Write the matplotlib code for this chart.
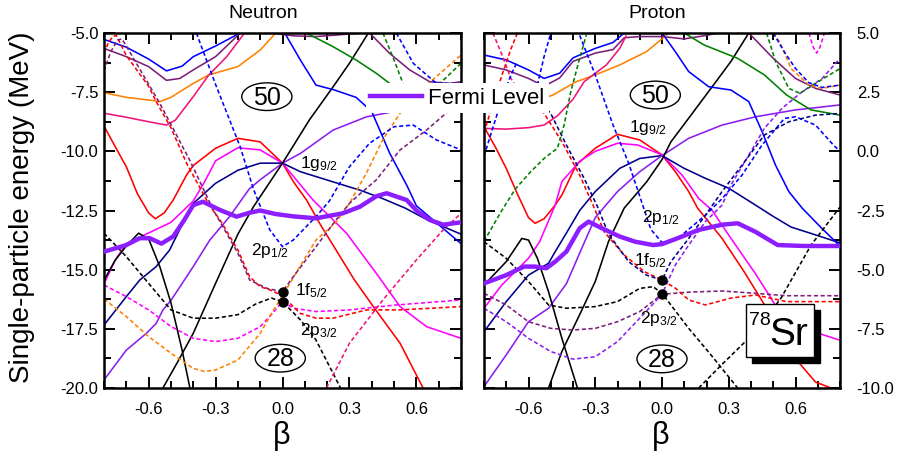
import matplotlib
matplotlib.use("Agg")
import matplotlib.pyplot as plt
from matplotlib.lines import Line2D
from matplotlib.patches import Ellipse, Rectangle
from matplotlib.ticker import MultipleLocator, FormatStrFormatter

plt.rcParams['font.family'] = ['Liberation Sans', 'DejaVu Sans']
plt.rcParams['mathtext.fontset'] = 'custom'
plt.rcParams['mathtext.rm'] = 'Liberation Sans'
plt.rcParams['mathtext.it'] = 'Liberation Sans:italic'

# ---------------- colours ----------------
RED = '#FF0000'; MAG = '#FF00FF'; NAVY = '#00008B'; BLUE = '#0000FF'
VIOL = '#8A1EF0'; DPUR = '#7B1F7B'; ORNG = '#FF8000'; PINK = '#F0147A'
GRN = '#008000'; BLK = '#000000'; FERMI = '#8C1EFF'

# ================= NEUTRON (left) data: beta, energy (MeV) =================
n_blue_top_b = [-0.8, -0.7, -0.6, -0.52, -0.45, -0.4, -0.3, -0.2]
n_blue_top_e = [-5.27, -5.6, -6.1, -6.6, -6.4, -6.0, -5.55, -5.05]
n_dpur_top_b = [-0.8, -0.7, -0.6, -0.52, -0.46, -0.4, -0.3, -0.2, -0.19]
n_dpur_top_e = [-5.65, -6.0, -6.42, -7.0, -6.92, -6.56, -6.0, -5.1, -5.0]
n_orng_sol_b = [-0.8, -0.7, -0.6, -0.55, -0.5, -0.4, -0.33, -0.2, -0.1, -0.03]
n_orng_sol_e = [-7.52, -7.72, -7.83, -7.9, -7.72, -7.13, -6.77, -6.42, -5.72, -5.0]
n_pink_sol_b = [-0.8, -0.7, -0.6, -0.52, -0.48, -0.4, -0.33, -0.25, -0.17]
n_pink_sol_e = [-8.39, -8.56, -8.75, -8.89, -8.68, -7.69, -6.77, -6.0, -5.0]
n_red_sol_b = [-0.8, -0.75, -0.7, -0.65, -0.6, -0.57, -0.53, -0.49, -0.43, -0.4, -0.3, -0.2, -0.1, 0.0,
               0.05, 0.108, 0.17, 0.24, 0.32, 0.407, 0.527, 0.63]
n_red_sol_e = [-8.93, -9.8, -10.65, -11.8, -12.6, -12.85, -12.6, -12.06, -11.0, -10.6, -9.87, -9.45, -9.6, -10.5,
               -11.3, -12.06, -13.1, -14.17, -15.4, -16.56, -18.11, -20.0]
n_mag_sol_b = [-0.8, -0.75, -0.7, -0.6, -0.5, -0.4, -0.35, -0.3, -0.2, -0.1, 0.0, 0.137, 0.287, 0.42, 0.527, 0.646, 0.8]
n_mag_sol_e = [-15.6, -14.6, -13.9, -13.45, -13.0, -12.1, -11.3, -10.4, -9.85, -9.94, -10.5, -12.06, -13.46, -15.15,
               -16.56, -17.41, -17.9]
n_navy_sol_b = [-0.8, -0.7, -0.64, -0.566, -0.506, -0.45, -0.4, -0.3, -0.2, -0.1, 0.0, 0.08, 0.23, 0.35, 0.45,
                0.55, 0.65, 0.8]
n_navy_sol_e = [-17.34, -16.14, -15.44, -14.87, -14.17, -13.1, -12.2, -11.35, -10.8, -10.5, -10.5, -10.86, -11.3,
                -11.65, -12.0, -12.4, -12.9, -13.5]
n_viol_sol_b = [-0.8, -0.7, -0.61, -0.566, -0.536, -0.5, -0.4, -0.326, -0.237, -0.15, -0.1, 0.0, 0.08, 0.227,
                0.377, 0.54, 0.8]
n_viol_sol_e = [-19.66, -18.4, -17.69, -17.27, -16.7, -16.3, -14.87, -13.75, -12.76, -11.6, -11.2, -10.5, -10.09,
                -9.1, -8.54, -8.25, -7.95]
n_blk_a_b = [-0.536, -0.47, -0.4, -0.3, -0.2, -0.13, 0.0, 0.12, 0.227, 0.3, 0.385]
n_blk_a_e = [-20.0, -18.9, -17.69, -15.58, -13.5, -12.34, -10.5, -8.68, -7.27, -6.28, -5.0]
n_blk_b_b = [-0.8, -0.75, -0.7, -0.645, -0.6, -0.55, -0.5, -0.45, -0.415]
n_blk_b_e = [-15.45, -14.6, -14.0, -13.46, -13.7, -14.87, -16.4, -18.4, -20.0]
n_blue_sol_b = [0.01, 0.08, 0.15, 0.23, 0.33, 0.4, 0.48, 0.56, 0.6, 0.7, 0.8]
n_blue_sol_e = [-5.0, -6.14, -7.2, -7.4, -7.72, -8.32, -10.07, -11.49, -12.3, -13.1, -13.9]
n_dpur_sol_r_b = [0.39, 0.48, 0.57, 0.66, 0.75, 0.8]
n_dpur_sol_r_e = [-5.0, -5.86, -6.56, -7.06, -7.13, -7.06]
n_dpur_hug_b = [-0.05, 0.05, 0.15, 0.25, 0.35]
n_dpur_hug_e = [-5.0, -5.12, -5.15, -5.08, -5.0]
n_grn_sol_b = [0.107, 0.227, 0.33, 0.42, 0.48, 0.55]
n_grn_sol_e = [-5.0, -5.58, -6.14, -6.7, -7.13, -7.5]

n_blk_dash_b = [-0.8, -0.7, -0.6, -0.5, -0.4, -0.3, -0.2, -0.12, -0.05, 0.0, 0.08, 0.15, 0.26]
n_blk_dash_e = [-13.46, -14.45, -15.58, -16.7, -17.05, -17.05, -16.9, -16.45, -16.2, -16.35, -17.12, -17.97, -20.0]
n_mag_dash_b = [-0.8, -0.7, -0.6, -0.5, -0.4, -0.3, -0.2, -0.1, -0.05, 0.0, 0.05, 0.15, 0.3, 0.5, 0.8]
n_mag_dash_e = [-15.65, -16.14, -16.7, -17.4, -17.9, -18.04, -17.9, -17.41, -16.9, -16.35, -16.63, -16.77, -16.7,
                -16.5, -16.28]
n_orng_dash_b = [-0.8, -0.7, -0.6, -0.5, -0.4, -0.35, -0.3, -0.2, -0.1, -0.04, 0.0, 0.078, 0.15, 0.24, 0.3,
                 0.377, 0.45, 0.527, 0.646, 0.8]
n_orng_dash_e = [-16.24, -16.98, -17.83, -18.53, -19.17, -19.3, -19.24, -18.82, -17.69, -16.7, -16.1, -14.87,
                 -13.75, -13.0, -12.2, -10.9, -9.5, -8.39, -7.2, -5.93]
n_red_dash_b = [-0.8, -0.78, -0.76, -0.745, -0.7, -0.6, -0.566, -0.5, -0.43, -0.326, -0.28, -0.2, -0.147, -0.1,
                -0.057, 0.0, 0.078, 0.15, 0.227, 0.377, 0.527, 0.8]
n_red_dash_e = [-5.86, -5.4, -5.15, -5.1, -5.95, -7.25, -7.9, -9.0, -10.5, -12.3, -12.9, -14.17, -15.3, -15.72,
                -15.85, -16.1, -16.84, -17.05, -17.05, -16.7, -16.7, -16.56]
n_pur_dash_b = [-0.8, -0.77, -0.74, -0.72, -0.7, -0.655, -0.55, -0.416, -0.31, -0.2, -0.147, -0.07, 0.0, 0.048,
                0.15, 0.24, 0.3, 0.347, 0.42, 0.527, 0.646, 0.75, 0.8]
n_pur_dash_e = [-6.6, -5.8, -5.3, -5.25, -5.55, -6.28, -7.97, -10.37, -12.48, -14.3, -15.44, -15.79, -15.93,
                -15.3, -14.03, -12.9, -12.2, -11.8, -11.21, -9.94, -9.1, -8.25, -7.97]
n_blue_dash_b = [-0.386, -0.296, -0.19, -0.13, -0.057, 0.0, 0.048, 0.15, 0.21, 0.3, 0.39, 0.5, 0.586, 0.69, 0.8]
n_blue_dash_e = [-5.0, -7.27, -9.8, -11.6, -13.32, -14.03, -13.75, -12.76, -12.1, -10.65, -9.66, -8.96, -8.89,
                 -9.52, -9.94]
n_grn_dash1_b = [0.45, 0.5, 0.54, 0.58]
n_grn_dash1_e = [-5.0, -6.14, -7.13, -7.6]
n_grn_dash2_b = [0.62, 0.706, 0.8]
n_grn_dash2_e = [-7.6, -7.13, -6.28]
n_blue_dash2_b = [0.51, 0.586, 0.69, 0.8]
n_blue_dash2_e = [-5.0, -6.28, -7.13, -7.13]
n_pink_dash_b = [0.197, 0.3, 0.45, 0.6, 0.72, 0.8]
n_pink_dash_e = [-20.0, -18.11, -16.28, -14.59, -13.32, -12.62]

n_fermi_b = [-0.8, -0.7, -0.64, -0.595, -0.543, -0.49, -0.44, -0.4, -0.356, -0.28, -0.206, -0.15, -0.1, -0.03,
             0.05, 0.15, 0.27, 0.347, 0.42, 0.467, 0.557, 0.6, 0.66, 0.72, 0.8]
n_fermi_e = [-14.24, -13.96, -13.67, -13.67, -13.9, -13.6, -12.9, -12.27, -12.13, -12.48, -12.76, -12.6, -12.5,
             -12.65, -12.75, -12.83, -12.62, -12.34, -11.9, -11.77, -12.06, -12.5, -12.9, -13.1, -13.0]
n_dots_b = [0.0, 0.0]
n_dots_e = [-15.93, -16.35]

# ================= PROTON (right) data =================
p_blue_top_b = [-0.8, -0.7, -0.6, -0.53, -0.46, -0.4, -0.3, -0.22, -0.17]
p_blue_top_e = [4.07, 3.86, 3.44, 3.08, 3.3, 3.95, 4.35, 4.6, 5.0]
p_dpur_top_b = [-0.8, -0.7, -0.6, -0.53, -0.46, -0.4, -0.3, -0.22, -0.17, -0.1, 0.0, 0.1, 0.2, 0.25]
p_dpur_top_e = [3.65, 3.44, 3.08, 2.75, 3.1, 3.8, 4.15, 4.3, 4.8, 4.85, 4.85, 4.75, 4.9, 5.0]
p_orng_sol_b = [-0.6, -0.49, -0.386, -0.3, -0.19, -0.07, 0.0, 0.03]
p_orng_sol_e = [2.0, 2.38, 2.94, 3.23, 3.65, 4.21, 4.75, 5.0]
p_pink_sol_b = [-0.8, -0.7, -0.6, -0.53, -0.47, -0.4, -0.35, -0.3, -0.25, -0.19, -0.16]
p_pink_sol_e = [0.97, 0.94, 1.0, 1.11, 1.5, 2.2, 2.94, 3.3, 3.65, 4.35, 4.9]
p_red_sol_b = [-0.8, -0.75, -0.7, -0.65, -0.6, -0.57, -0.53, -0.48, -0.45, -0.386, -0.3, -0.2, -0.1, 0.0, 0.06,
               0.12, 0.16, 0.27, 0.37, 0.49, 0.6, 0.69, 0.76]
p_red_sol_e = [1.04, 0.2, -0.72, -1.8, -2.8, -3.04, -2.85, -2.27, -1.85, -0.58, 0.13, 0.72, 0.48, -0.15, -0.86,
               -1.7, -2.4, -3.68, -5.1, -6.93, -8.76, -9.75, -10.0]
p_mag_sol_b = [-0.8, -0.72, -0.6, -0.55, -0.48, -0.45, -0.37, -0.3, -0.2, -0.11, 0.0, 0.09, 0.165, 0.225, 0.31,
               0.415, 0.49, 0.535, 0.64, 0.8]
p_mag_sol_e = [-6.63, -5.65, -4.52, -3.82, -2.27, -1.28, -0.42, 0.0, 0.34, 0.27, -0.15, -1.0, -1.99, -2.49, -3.68,
               -5.1, -6.2, -6.93, -7.5, -7.98]
p_navy_sol_b = [-0.8, -0.7, -0.6, -0.51, -0.48, -0.42, -0.37, -0.3, -0.19, -0.1, 0.0, 0.1, 0.195, 0.3, 0.42, 0.5,
                0.58, 0.68, 0.8]
p_navy_sol_e = [-7.62, -6.35, -5.23, -4.73, -4.24, -3.3, -2.5, -1.7, -0.72, -0.3, -0.18, -0.72, -1.14, -1.56,
                -2.27, -2.75, -3.2, -3.5, -3.87]
p_viol_sol_b = [-0.8, -0.7, -0.6, -0.51, -0.43, -0.37, -0.3, -0.2, -0.1, 0.0, 0.12, 0.27, 0.42, 0.6, 0.8]
p_viol_sol_e = [-9.94, -8.6, -7.2, -6.63, -5.6, -4.3, -2.8, -1.7, -0.86, -0.18, 0.55, 1.11, 1.46, 1.75, 1.96]
p_blk_a_b = [-0.51, -0.45, -0.37, -0.3, -0.24, -0.17, -0.07, 0.0, 0.04, 0.12, 0.22, 0.31, 0.39]
p_blk_a_e = [-10.0, -8.46, -6.9, -5.5, -3.8, -2.4, -1.3, -0.35, 0.4, 1.4, 2.66, 3.8, 5.0]
p_blk_b_b = [-0.8, -0.7, -0.63, -0.6, -0.56, -0.51, -0.45, -0.38]
p_blk_b_e = [-5.65, -4.66, -3.68, -3.75, -4.52, -5.93, -7.9, -10.0]
p_dpur_sol_r_b = [0.39, 0.5, 0.6, 0.69, 0.8]
p_dpur_sol_r_e = [5.0, 3.93, 3.08, 2.66, 2.38]
p_grn_sol_b = [0.1, 0.19, 0.34, 0.46, 0.56, 0.67, 0.8]
p_grn_sol_e = [5.0, 4.49, 3.93, 3.23, 2.38, 1.75, 1.53]
p_blue_sol_b = [0.0, 0.06, 0.12, 0.21, 0.31, 0.39, 0.45, 0.51, 0.57, 0.63, 0.72, 0.8]
p_blue_sol_e = [5.0, 4.21, 3.37, 2.73, 2.59, 2.1, 0.83, -0.58, -1.7, -2.4, -3.27, -4.0]

p_blk_dash1_b = [-0.8, -0.7, -0.6, -0.51, -0.43, -0.3, -0.2, -0.1, -0.04, 0.0, 0.12, 0.22, 0.34]
p_blk_dash1_e = [-3.82, -4.52, -5.5, -6.49, -6.63, -6.56, -6.35, -5.79, -5.72, -6.0, -7.48, -8.6, -10.0]
p_blk_dash2_b = [0.165, 0.27, 0.42, 0.535, 0.67, 0.78, 0.8]
p_blk_dash2_e = [-10.0, -9.0, -7.62, -6.2, -3.96, -2.6, -2.35]
p_dpur_dash_b = [-0.8, -0.7, -0.6, -0.5, -0.4, -0.3, -0.2, -0.1, 0.0, 0.12, 0.27, 0.42, 0.56, 0.8]
p_dpur_dash_e = [-6.0, -6.49, -7.2, -7.48, -7.55, -7.48, -7.2, -6.77, -6.04, -5.95, -5.9, -6.0, -6.1, -6.1]
p_viol_dash_b = [-0.8, -0.7, -0.6, -0.5, -0.4, -0.3, -0.2, -0.1, 0.0, 0.06, 0.12, 0.195, 0.27, 0.31, 0.4, 0.46,
                 0.54, 0.63, 0.72, 0.8]
p_viol_dash_e = [-6.63, -7.2, -7.9, -8.46, -8.78, -8.68, -8.04, -7.05, -6.04, -4.8, -3.96, -2.97, -2.27, -1.42,
                 0.0, 0.97, 1.82, 2.52, 3.08, 3.93]
p_blue_dash_b = [-0.37, -0.3, -0.22, -0.15, -0.1, -0.05, 0.0, 0.05, 0.09, 0.195, 0.27, 0.36, 0.45, 0.55, 0.6,
                 0.69, 0.77, 0.8]
p_blue_dash_e = [4.9, 3.23, 1.11, -0.5, -1.9, -3.3, -3.85, -3.8, -3.53, -2.7, -2.0, -1.0, 0.27, 1.39, 1.46, 1.11,
                 0.27, 0.0]
p_red_dash_b = [-0.62, -0.53, -0.45, -0.37, -0.31, -0.26, -0.17, -0.08, 0.0, 0.06, 0.12, 0.195, 0.31, 0.42, 0.56,
                0.8]
p_red_dash_e = [2.6, 1.6, 0.41, -1.0, -2.27, -3.4, -4.38, -5.08, -5.44, -5.78, -6.28, -6.49, -6.2, -6.07, -6.35,
                -6.35]
p_navy_dash_b = [-0.6, -0.5, -0.43, -0.35, -0.29, -0.24, -0.15, -0.07, 0.0, 0.04, 0.12, 0.195, 0.27, 0.36, 0.46,
                 0.57, 0.69, 0.8]
p_navy_dash_e = [2.6, 1.6, 0.27, -1.14, -2.34, -3.5, -4.66, -5.23, -5.44, -4.66, -3.68, -2.7, -1.7, -0.58, 0.69,
                 1.25, 1.53, 1.6]
p_grn_dash_b = [-0.8, -0.72, -0.66, -0.59, -0.53, -0.47, -0.44, -0.41, -0.37, -0.34]
p_grn_dash_e = [-3.8, -2.5, -1.6, -0.86, -0.3, 0.13, 1.11, 2.52, 3.93, 4.92]
p_grn_dash_r_b = [0.47, 0.51, 0.57, 0.62, 0.69, 0.8]
p_grn_dash_r_e = [5.0, 3.8, 2.66, 2.45, 2.87, 3.5]
p_orng_dash_r_b = [0.5, 0.53, 0.58, 0.66, 0.72, 0.8]
p_orng_dash_r_e = [5.0, 4.6, 3.5, 2.8, 2.66, 2.8]
p_mag_dash_r_b = [0.66, 0.68, 0.695, 0.71, 0.73]
p_mag_dash_r_e = [5.0, 4.4, 4.15, 4.4, 5.0]
p_blue_dash_r_b = [0.5, 0.55, 0.6, 0.66, 0.72, 0.8]
p_blue_dash_r_e = [5.0, 4.2, 3.5, 2.9, 2.7, 2.8]
p_pink_dash_tl_b = [-0.76, -0.72, -0.68, -0.64]
p_pink_dash_tl_e = [5.0, 4.1, 3.1, 2.5]
p_red_dash_tl_b = [-0.8, -0.76, -0.72, -0.68, -0.65]
p_red_dash_tl_e = [0.8, 2.0, 3.2, 4.3, 5.0]
p_blue_dash_tl_b = [-0.8, -0.76, -0.72, -0.68, -0.65]
p_blue_dash_tl_e = [-0.2, 1.0, 2.2, 3.2, 3.8]
p_blue_dash_tl2_b = [-0.56, -0.53, -0.5]
p_blue_dash_tl2_e = [2.8, 4.0, 5.0]

p_fermi_b = [-0.8, -0.7, -0.62, -0.57, -0.52, -0.48, -0.43, -0.37, -0.33, -0.27, -0.19, -0.12, -0.04, 0.0, 0.09,
             0.165, 0.27, 0.34, 0.42, 0.52, 0.64, 0.8]
p_fermi_e = [-5.58, -5.23, -4.87, -4.87, -4.94, -4.66, -4.24, -3.25, -2.97, -3.25, -3.6, -3.82, -3.96, -3.92, -3.6,
             -3.32, -3.1, -3.04, -3.4, -3.96, -4.0, -4.0]
p_dots_b = [0.0, 0.0]
p_dots_e = [-5.44, -6.03]

# tick labels / text
x_ticks = [-0.6, -0.3, 0.0, 0.3, 0.6]
x_ticklabels = ['-0.6', '-0.3', '0.0', '0.3', '0.6']

DASH = (0, (2.6, 1.6))

neutron_curves = [
    (n_blue_top_b, n_blue_top_e, BLUE, '-'), (n_dpur_top_b, n_dpur_top_e, DPUR, '-'),
    (n_orng_sol_b, n_orng_sol_e, ORNG, '-'), (n_pink_sol_b, n_pink_sol_e, PINK, '-'),
    (n_red_sol_b, n_red_sol_e, RED, '-'), (n_mag_sol_b, n_mag_sol_e, MAG, '-'),
    (n_navy_sol_b, n_navy_sol_e, NAVY, '-'), (n_viol_sol_b, n_viol_sol_e, VIOL, '-'),
    (n_blk_a_b, n_blk_a_e, BLK, '-'), (n_blk_b_b, n_blk_b_e, BLK, '-'),
    (n_blue_sol_b, n_blue_sol_e, BLUE, '-'), (n_dpur_sol_r_b, n_dpur_sol_r_e, DPUR, '-'),
    (n_dpur_hug_b, n_dpur_hug_e, DPUR, '-'), (n_grn_sol_b, n_grn_sol_e, GRN, '-'),
    (n_blk_dash_b, n_blk_dash_e, BLK, DASH), (n_mag_dash_b, n_mag_dash_e, MAG, DASH),
    (n_orng_dash_b, n_orng_dash_e, ORNG, DASH), (n_red_dash_b, n_red_dash_e, RED, DASH),
    (n_pur_dash_b, n_pur_dash_e, DPUR, DASH), (n_blue_dash_b, n_blue_dash_e, BLUE, DASH),
    (n_grn_dash1_b, n_grn_dash1_e, GRN, DASH), (n_grn_dash2_b, n_grn_dash2_e, GRN, DASH),
    (n_blue_dash2_b, n_blue_dash2_e, BLUE, DASH), (n_pink_dash_b, n_pink_dash_e, PINK, DASH),
]

proton_curves = [
    (p_blue_top_b, p_blue_top_e, BLUE, '-'), (p_dpur_top_b, p_dpur_top_e, DPUR, '-'),
    (p_orng_sol_b, p_orng_sol_e, ORNG, '-'), (p_pink_sol_b, p_pink_sol_e, PINK, '-'),
    (p_red_sol_b, p_red_sol_e, RED, '-'), (p_mag_sol_b, p_mag_sol_e, MAG, '-'),
    (p_navy_sol_b, p_navy_sol_e, NAVY, '-'), (p_viol_sol_b, p_viol_sol_e, VIOL, '-'),
    (p_blk_a_b, p_blk_a_e, BLK, '-'), (p_blk_b_b, p_blk_b_e, BLK, '-'),
    (p_dpur_sol_r_b, p_dpur_sol_r_e, DPUR, '-'), (p_grn_sol_b, p_grn_sol_e, GRN, '-'),
    (p_blue_sol_b, p_blue_sol_e, BLUE, '-'),
    (p_blk_dash1_b, p_blk_dash1_e, BLK, DASH), (p_blk_dash2_b, p_blk_dash2_e, BLK, DASH),
    (p_dpur_dash_b, p_dpur_dash_e, DPUR, DASH), (p_viol_dash_b, p_viol_dash_e, VIOL, DASH),
    (p_blue_dash_b, p_blue_dash_e, BLUE, DASH), (p_red_dash_b, p_red_dash_e, RED, DASH),
    (p_navy_dash_b, p_navy_dash_e, NAVY, DASH), (p_grn_dash_b, p_grn_dash_e, GRN, DASH),
    (p_grn_dash_r_b, p_grn_dash_r_e, GRN, DASH), (p_orng_dash_r_b, p_orng_dash_r_e, ORNG, DASH),
    (p_mag_dash_r_b, p_mag_dash_r_e, MAG, DASH), (p_blue_dash_r_b, p_blue_dash_r_e, BLUE, DASH),
    (p_pink_dash_tl_b, p_pink_dash_tl_e, PINK, DASH), (p_red_dash_tl_b, p_red_dash_tl_e, RED, DASH),
    (p_blue_dash_tl_b, p_blue_dash_tl_e, BLUE, DASH), (p_blue_dash_tl2_b, p_blue_dash_tl2_e, BLUE, DASH),
]

fig = plt.figure(figsize=(8.98, 4.57), dpi=100)
axL = fig.add_axes([104 / 898, 69 / 457, 357 / 898, 355 / 457])
axR = fig.add_axes([484 / 898, 69 / 457, 356 / 898, 355 / 457])


def style_axes(ax, ylim, side):
    ax.set_xlim(-0.8, 0.8)
    ax.set_ylim(*ylim)
    ax.set_xticks(x_ticks)
    ax.set_xticklabels(x_ticklabels)
    ax.xaxis.set_minor_locator(MultipleLocator(0.1))
    ax.yaxis.set_major_locator(MultipleLocator(2.5))
    ax.yaxis.set_minor_locator(MultipleLocator(1.25))
    ax.yaxis.set_major_formatter(FormatStrFormatter('%.1f'))
    ax.tick_params(which='both', direction='in', top=True, right=True, left=True, bottom=True, width=1.4,
                   labelsize=12)
    ax.tick_params(which='major', length=8)
    ax.tick_params(which='minor', length=5)
    ax.tick_params(axis='x', which='major', pad=10)
    if side == 'left':
        ax.tick_params(axis='y', labelleft=True, labelright=False, pad=4)
    else:
        ax.tick_params(axis='y', labelleft=False, labelright=True, pad=12)
    for s in ax.spines.values():
        s.set_linewidth(1.8)


def draw(ax, curves, fb, fe, db, de):
    for b, e, c, ls in curves:
        ax.plot(b, e, color=c, linestyle=ls, lw=1.15, zorder=2, solid_capstyle='butt',
                solid_joinstyle='round')
    ax.plot(fb, fe, color=FERMI, lw=3.2, zorder=3, solid_joinstyle='round')
    ax.plot(db, de, 'o', color='black', ms=6.5, zorder=5, linestyle='none')


style_axes(axL, (-20, -5), 'left')
style_axes(axR, (-10, 5), 'right')
draw(axL, neutron_curves, n_fermi_b, n_fermi_e, n_dots_b, n_dots_e)
draw(axR, proton_curves, p_fermi_b, p_fermi_e, p_dots_b, p_dots_e)

# magic-number ellipses
for ax, (cx, cy), txt in [(axL, (-0.07, -7.69), '50'), (axL, (-0.01, -18.74), '28'),
                          (axR, (-0.03, 2.38), '50'), (axR, (0.0, -8.77), '28')]:
    ax.add_patch(Ellipse((cx, cy), 0.225, 1.17, facecolor='white', edgecolor='black', lw=1.0, zorder=6))
    ax.text(cx, cy - 0.05, txt, ha='center', va='center', fontsize=18, zorder=7)

# orbital labels
lab_kw = dict(fontsize=12.5, ha='left', va='baseline', zorder=6)
axL.text(0.078, -10.72, r'1g$_{\mathrm{9/2}}$', **lab_kw)
axL.text(-0.14, -14.38, r'2p$_{\mathrm{1/2}}$', **lab_kw)
axL.text(0.055, -16.07, r'1f$_{\mathrm{5/2}}$', **lab_kw)
axL.text(0.078, -17.76, r'2p$_{\mathrm{3/2}}$', **lab_kw)
axR.text(-0.15, 0.83, r'1g$_{\mathrm{9/2}}$', **lab_kw)
axR.text(-0.09, -2.97, r'2p$_{\mathrm{1/2}}$', **lab_kw)
axR.text(-0.125, -4.8, r'1f$_{\mathrm{5/2}}$', **lab_kw)
axR.text(-0.1, -7.27, r'2p$_{\mathrm{3/2}}$', **lab_kw)

# nucleus box with shadow
axR.add_patch(Rectangle((0.404, -8.93), 0.307, 2.22, facecolor='black', edgecolor='black', zorder=8))
axR.add_patch(Rectangle((0.377, -8.68), 0.307, 2.22, facecolor='white', edgecolor='black', lw=1.0, zorder=9))
axR.text(0.39, -7.35, '78', fontsize=14, ha='left', va='baseline', zorder=10)
axR.text(0.482, -8.18, 'Sr', fontsize=28, ha='left', va='baseline', zorder=10)

# titles and axis labels
axL.text(0.445, 1.054, 'Neutron', transform=axL.transAxes, ha='center', va='center', fontsize=14)
axR.text(0.487, 1.054, 'Proton', transform=axR.transAxes, ha='center', va='center', fontsize=14)
fig.text(22 / 898, 1 - 207 / 457, 'Single-particle energy (MeV)', rotation=90, ha='center', va='center',
         fontsize=20)
fig.text(282 / 898, 1 - 436 / 457, 'β', ha='center', va='center', fontsize=22)
fig.text(661 / 898, 1 - 436 / 457, 'β', ha='center', va='center', fontsize=22)

# Fermi level legend (spans both panels)
leg = fig.legend([Line2D([], [], color=FERMI, lw=3.2)], ['Fermi Level'], loc='center left',
                 bbox_to_anchor=(366 / 898, 1 - 98 / 457), bbox_transform=fig.transFigure,
                 fontsize=16, frameon=True, fancybox=False, framealpha=1.0, borderpad=0.2,
                 handlelength=2.3, handletextpad=0.3, borderaxespad=0.0)
leg.get_frame().set_facecolor('white')
leg.get_frame().set_edgecolor('none')
leg.set_zorder(20)

fig.savefig('out.png', dpi=100)
